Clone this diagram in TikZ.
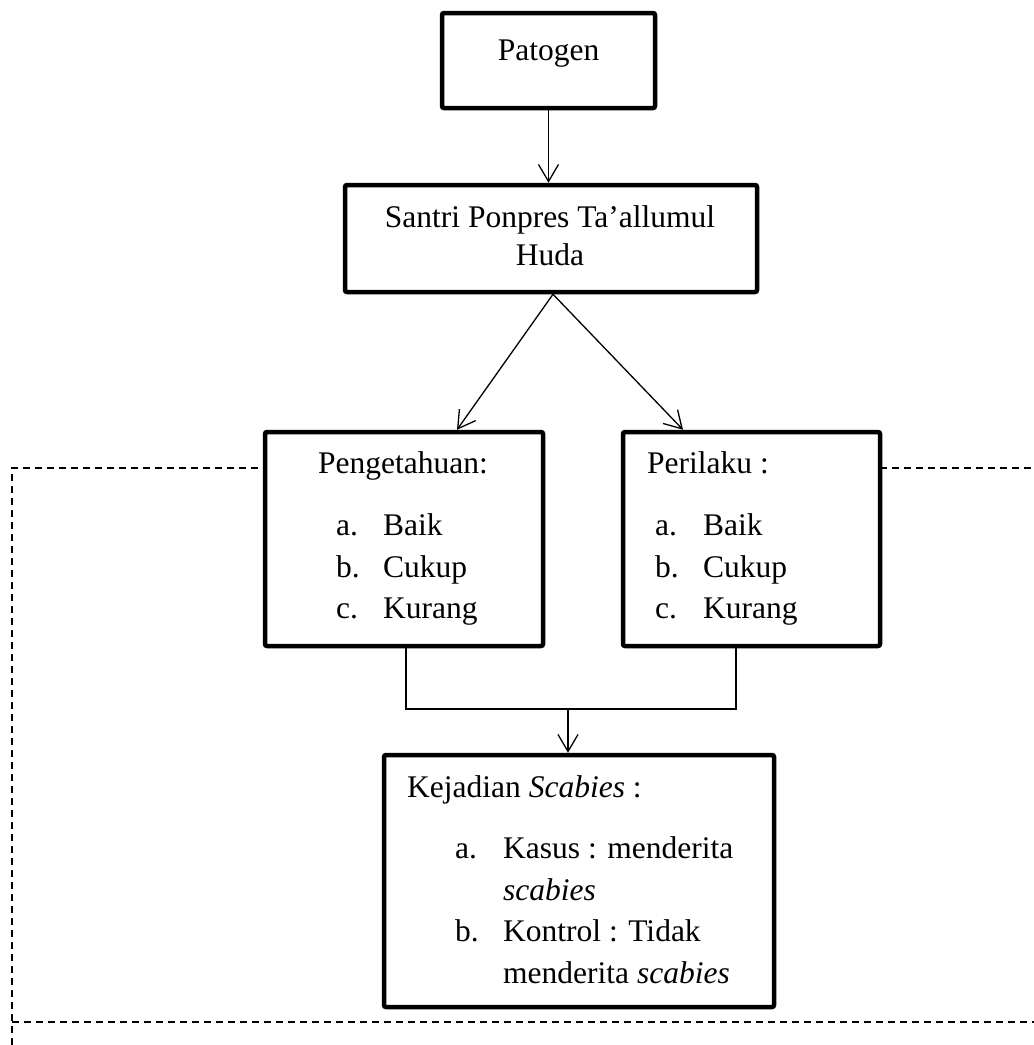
\documentclass[tikz,border=0pt]{standalone}
\usepackage{fontspec}
\setmainfont{Liberation Serif}
\usetikzlibrary{arrows.meta}
\tikzset{
  boxnode/.style={draw=black, fill=white, line width=4.5pt, rounded corners=2pt, inner sep=0pt},
  txt/.style={inner sep=0pt, anchor=base west, font=\fontsize{31.5pt}{41.7pt}\selectfont},
  ctxt/.style={txt, anchor=base},
  conn/.style={line width=1.3pt, draw=black},
  arr/.style={conn, -{Straight Barb[length=17pt,width=20pt,line width=1.3pt]}},
  dashline/.style={line width=1.4pt, dash pattern=on 7pt off 5pt},
}
\begin{document}
\begin{tikzpicture}[x=1pt,y=-1pt]
\useasboundingbox (0,0) rectangle (1034,1045);
% dashed frame
\coordinate (dTL) at (12,468);
\coordinate (dBL) at (12,1045);
\coordinate (dB1) at (12,1022);
\coordinate (dB2) at (1034,1022);
\coordinate (dR) at (1034,468);
\draw[dashline] (dBL) -- (dTL) -- (265,468);
\draw[dashline] (dB1) -- (dB2);
\draw[dashline] (880,468) -- (dR);
% boxes
\node[boxnode, minimum width=213pt, minimum height=95pt] (pat) at (548.5,60.5) {};
\node[boxnode, minimum width=412pt, minimum height=107pt] (san) at (551,238.5) {};
\node[boxnode, minimum width=278pt, minimum height=214pt] (pen) at (404,539) {};
\node[boxnode, minimum width=257pt, minimum height=214pt] (per) at (751.5,539) {};
\node[boxnode, minimum width=390pt, minimum height=252pt] (kej) at (579,881) {};
% texts
\node[ctxt] (tpat) at (548.5,60) {Patogen};
\node[ctxt] (tsan1) at (550,227) {Santri Ponpres Ta’allumul};
\node[ctxt] (tsan2) at (550,265) {Huda};
\node[txt] (tpen) at (318,473) {Pengetahuan:};
\node[txt] (pa) at (336,535) {a.};
\node[txt] (pai) at (383,535) {Baik};
\node[txt] (pb) at (336,577) {b.};
\node[txt] (pbi) at (383,577) {Cukup};
\node[txt] (pc) at (336,618) {c.};
\node[txt] (pci) at (383,618) {Kurang};
\node[txt] (tper) at (647,473) {Perilaku :};
\node[txt] (ra) at (655,535) {a.};
\node[txt] (rai) at (703,535) {Baik};
\node[txt] (rb) at (655,577) {b.};
\node[txt] (rbi) at (703,577) {Cukup};
\node[txt] (rc) at (655,618) {c.};
\node[txt] (rci) at (703,618) {Kurang};
\node[txt] (tkej) at (407,797) {Kejadian \textit{Scabies} :};
\node[txt] (ka) at (455,858) {a.};
\node[txt] (kai) at (503,858) {Kasus : menderita};
\node[txt] (kai2) at (503,900) {\textit{scabies}};
\node[txt] (kb) at (455,941) {b.};
\node[txt] (kbi) at (503,941) {Kontrol : Tidak};
\node[txt] (kbi2) at (503,983) {menderita \textit{scabies}};
% connectors
\draw[arr] (pat.south) -- (pat.south |- san.north);
\draw[arr] ([xshift=2pt]san.south) -- ([xshift=53pt]pen.north);
\draw[arr] ([xshift=2pt]san.south) -- ([xshift=-68.5pt]per.north);
\coordinate (join) at (568,709);
\draw[conn] ([xshift=2pt]pen.south) |- (join) -| ([xshift=-15.5pt]per.south);
\draw[arr] (join) -- (join |- kej.north);
\end{tikzpicture}
\end{document}
